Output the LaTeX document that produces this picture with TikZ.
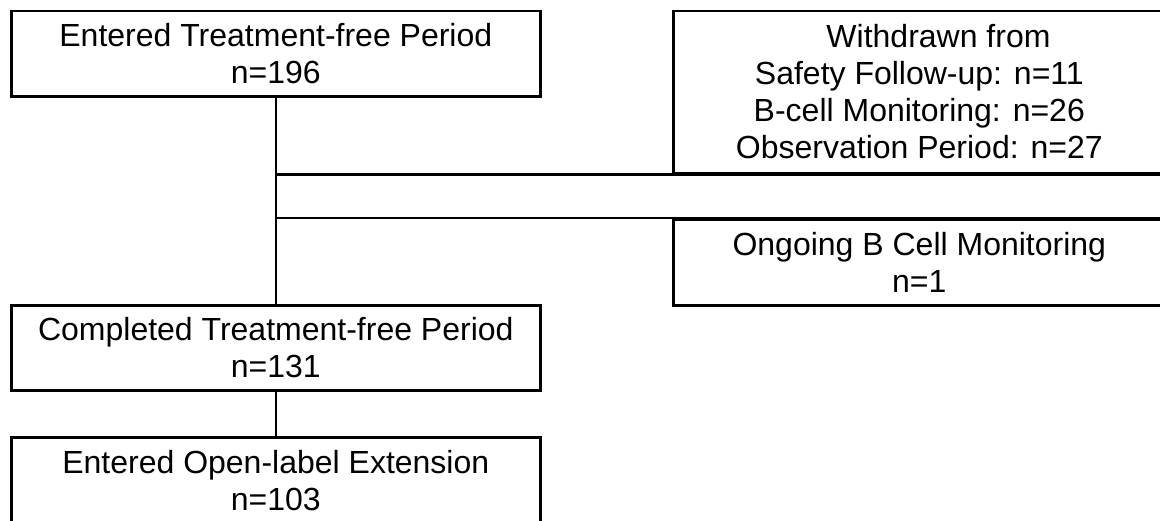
\documentclass[tikz,border=0pt]{standalone}
\usepackage{fontspec}
\setmainfont{Liberation Sans}
\begin{document}
\begin{tikzpicture}[x=0.5pt,y=-0.5pt,
  box/.style={draw, line width=1.3pt, rectangle, inner sep=0pt, align=center,
    font=\fontsize{16}{18.5}\selectfont, anchor=north west},
  conn/.style={line width=1.3pt}]
\useasboundingbox (0,0) rectangle (1160,520);
\clip (0,0) rectangle (1160,520);
\node[box, minimum width=264.5pt, minimum height=42.75pt] (entered) at (10,9.5)
  {Entered Treatment-free Period\\n=196};
\node[box, minimum width=246pt, minimum height=81.25pt] (withdrawn) at (672,9.5)
  {\hspace*{1.2em}Withdrawn from\\Safety Follow-up: n=11\\B-cell Monitoring: n=26\\Observation Period: n=27};
\node[box, minimum width=246pt, minimum height=43pt] (ongoing) at (672,218)
  {Ongoing B Cell Monitoring\\n=1};
\node[box, minimum width=264.5pt, minimum height=42.5pt] (completed) at (10,304)
  {Completed Treatment-free Period\\n=131};
\node[box, minimum width=264.5pt, minimum height=43pt] (ole) at (10,436)
  {Entered Open-label Extension\\n=103};
\draw[conn] (entered.south) -- (completed.north);
\draw[conn] (entered.south |- withdrawn.south) -- (withdrawn.south east);
\draw[conn] (entered.south |- ongoing.north) -- (ongoing.north east);
\draw[conn] (completed.south) -- (ole.north);
\end{tikzpicture}
\end{document}
